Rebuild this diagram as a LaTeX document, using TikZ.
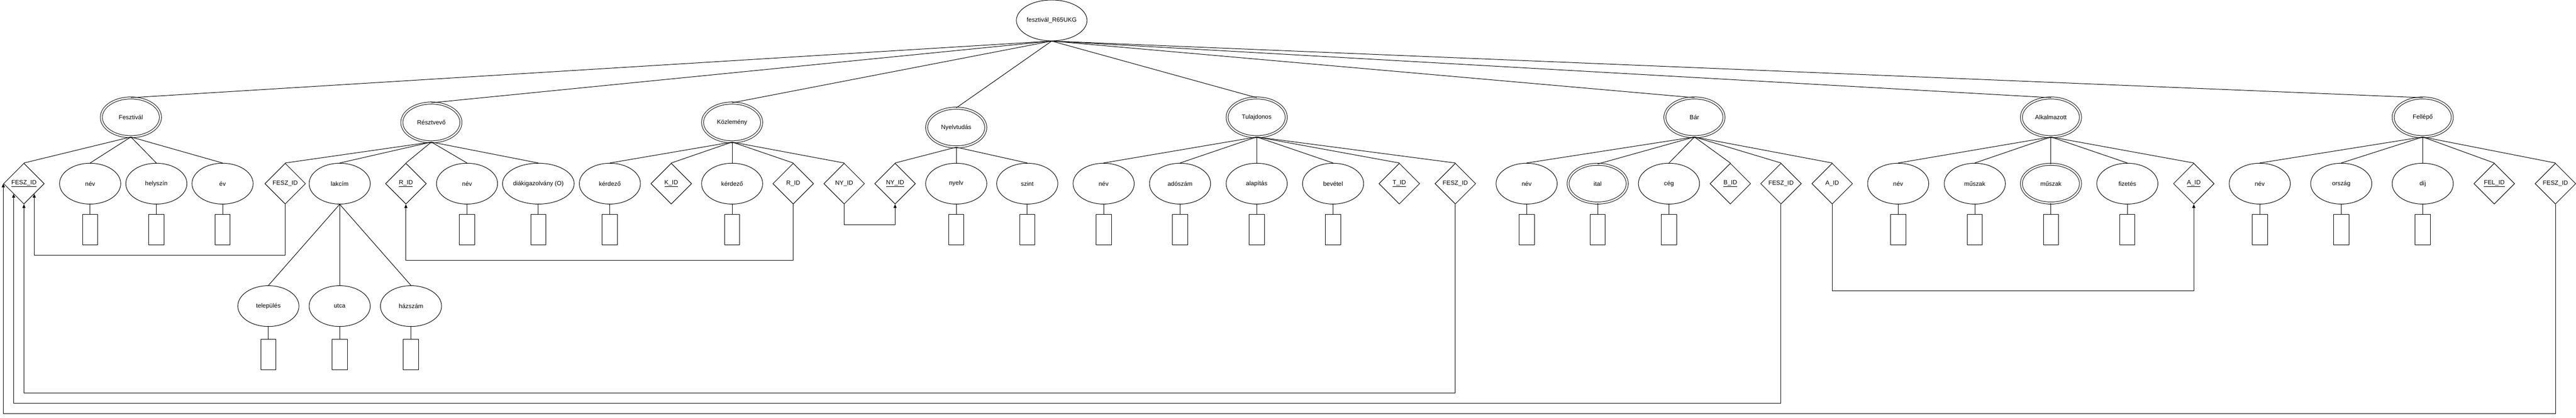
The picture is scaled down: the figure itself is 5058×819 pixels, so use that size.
\documentclass[tikz,border=0pt]{standalone}
\usepackage{fontspec}
\setmainfont{Liberation Sans}
\usetikzlibrary{shapes.geometric,arrows.meta}

\begin{document}
\begin{tikzpicture}[x=1pt,y=-1pt,line width=1pt,
        every node/.style={font=\fontsize{12}{14}\selectfont},
        attr/.style={ellipse,draw,minimum width=120pt,minimum height=80pt,inner sep=0pt},
        multi/.style={ellipse,draw,double,double distance=3pt,minimum width=116pt,minimum height=76pt,inner sep=0pt},
        key/.style={diamond,draw,minimum width=80pt,minimum height=80pt,inner sep=0pt},
        dombox/.style={rectangle,draw,minimum width=30pt,minimum height=60pt,inner sep=0pt},
        fk/.style={-{Triangle[length=7pt,width=6pt]}}]
        \useasboundingbox (0,0) rectangle (5058,819);

        % gyoker
        \node at (2065,40)[attr] (root) {fesztivál\_R65UKG};

        % Fesztivál
        \node at (257,230)[multi] (fesztival) {Fesztivál};
        \node at (47,360)[key] (fid) {\underline{FESZ\_ID}};
        \node at (177,360)[attr] (fnev) {név};
        \node at (307,360)[attr] (fhely) {helyszín};
        \node at (437,360)[attr] (fev) {év};
        \node at (177,450)[dombox] (fnevd) {};
        \node at (307,450)[dombox] (fhelyd) {};
        \node at (437,450)[dombox] (fevd) {};

        % Résztvevő
        \node at (847,240)[multi] (resztvevo) {Résztvevő};
        \node at (560,360)[key] (rfid) {FESZ\_ID};
        \node at (667,360)[attr] (rlakcim) {lakcím};
        \node at (797,360)[key] (rrid) {\underline{R\_ID}};
        \node at (917,360)[attr] (rnev) {név};
        \node at (1057,360)[attr] (rdiak) {diákigazolvány (O)};
        \node at (917,450)[dombox] (rnevd) {};
        \node at (1057,450)[dombox] (rdiakd) {};
        \node at (527,600)[attr] (rtelep) {település};
        \node at (667,600)[attr] (rutca) {utca};
        \node at (807,600)[attr] (rhaz) {házszám};
        \node at (527,695)[dombox] (rtelepd) {};
        \node at (667,695)[dombox] (rutcad) {};
        \node at (807,695)[dombox] (rhazd) {};

        % Közlemény
        \node at (1437.5,240)[multi] (kozlemeny) {Közlemény};
        \node at (1197.5,360)[attr] (kkerd) {kérdező};
        \node at (1318,360)[key] (kkid) {\underline{K\_ID}};
        \node at (1437.5,360)[attr] (kkerdb) {kérdező};
        \node at (1557.5,360)[key] (krid) {R\_ID};
        \node at (1657.5,360)[key] (knyid) {NY\_ID};
        \node at (1197.5,450)[dombox] (kkerdd) {};
        \node at (1437.5,450)[dombox] (kkerdbd) {};

        % Nyelvtudás
        \node at (1877.5,250)[multi] (nyelvtudas) {Nyelvtudás};
        \node at (1757.5,360)[key] (nyid) {\underline{NY\_ID}};
        \node at (1877.5,360)[attr] (nynyelv) {nyelv};
        \node at (2017,360)[attr] (nyszint) {szint};
        \node at (1877.5,450)[dombox] (nynyelvd) {};
        \node at (2017,450)[dombox] (nyszintd) {};

        % Tulajdonos
        \node at (2467.5,230)[multi] (tulajdonos) {Tulajdonos};
        \node at (2167,360)[attr] (tnev) {név};
        \node at (2317,360)[attr] (tado) {adószám};
        \node at (2467.5,360)[attr] (talap) {alapítás};
        \node at (2617.5,360)[attr] (tbev) {bevétel};
        \node at (2747.5,360)[key] (ttid) {\underline{T\_ID}};
        \node at (2857.5,360)[key] (tfid) {FESZ\_ID};
        \node at (2167,450)[dombox] (tnevd) {};
        \node at (2317,450)[dombox] (tadod) {};
        \node at (2467.5,450)[dombox] (talapd) {};
        \node at (2617.5,450)[dombox] (tbevd) {};

        % Bár
        \node at (3327,230)[multi] (bar) {Bár};
        \node at (2997.5,360)[attr] (bnev) {név};
        \node at (3137,360)[multi] (bital) {ital};
        \node at (3277,360)[attr] (bceg) {cég};
        \node at (3397.5,360)[key] (bbid) {\underline{B\_ID}};
        \node at (3497,360)[key] (bfid) {FESZ\_ID};
        \node at (3597.5,360)[key] (baid) {A\_ID};
        \node at (2997.5,450)[dombox] (bnevd) {};
        \node at (3137,450)[dombox] (bitald) {};
        \node at (3277,450)[dombox] (bcegd) {};

        % Alkalmazott
        \node at (4027,230)[multi] (alkalmazott) {Alkalmazott};
        \node at (3727,360)[attr] (anev) {név};
        \node at (3877.5,360)[attr] (amusz) {műszak};
        \node at (4027,360)[multi] (amuszb) {műszak};
        \node at (4177,360)[attr] (afiz) {fizetés};
        \node at (4307.5,360)[key] (aaid) {\underline{A\_ID}};
        \node at (3727,450)[dombox] (anevd) {};
        \node at (3877.5,450)[dombox] (amuszd) {};
        \node at (4027,450)[dombox] (amuszbd) {};
        \node at (4177,450)[dombox] (afizd) {};

        % Fellépő
        \node at (4757,230)[multi] (fellepo) {Fellépő};
        \node at (4437,360)[attr] (fenev) {név};
        \node at (4597,360)[attr] (feorsz) {ország};
        \node at (4757,360)[attr] (fedij) {díj};
        \node at (4897.5,360)[key] (fefelid) {\underline{FEL\_ID}};
        \node at (5017.5,360)[key] (fefid) {FESZ\_ID};
        \node at (4437,450)[dombox] (fenevd) {};
        \node at (4597,450)[dombox] (feorszd) {};
        \node at (4757,450)[dombox] (fedijd) {};

        % gyoker - egyedek
        \draw (root.south) -- (fesztival.north);
        \draw (root.south) -- (resztvevo.north);
        \draw (root.south) -- (kozlemeny.north);
        \draw (root.south) -- (nyelvtudas.north);
        \draw (root.south) -- (tulajdonos.north);
        \draw (root.south) -- (bar.north);
        \draw (root.south) -- (alkalmazott.north);
        \draw (root.south) -- (fellepo.north);

        % egyedek - tulajdonsagok
        \draw (fesztival.south) -- (fid.north);
        \draw (fesztival.south) -- (fnev.north);
        \draw (fesztival.south) -- (fhely.north);
        \draw (fesztival.south) -- (fev.north);
        \draw (resztvevo.south) -- (rfid.north);
        \draw (resztvevo.south) -- (rlakcim.north);
        \draw (resztvevo.south) -- (rrid.north);
        \draw (resztvevo.south) -- (rnev.north);
        \draw (resztvevo.south) -- (rdiak.north);
        \draw (rlakcim.south) -- (rtelep.north);
        \draw (rlakcim.south) -- (rutca.north);
        \draw (rlakcim.south) -- (rhaz.north);
        \draw (kozlemeny.south) -- (kkerd.north);
        \draw (kozlemeny.south) -- (kkid.north);
        \draw (kozlemeny.south) -- (kkerdb.north);
        \draw (kozlemeny.south) -- (krid.north);
        \draw (kozlemeny.south) -- (knyid.north);
        \draw (nyelvtudas.south) -- (nyid.north);
        \draw (nyelvtudas.south) -- (nynyelv.north);
        \draw (nyelvtudas.south) -- (nyszint.north);
        \draw (tulajdonos.south) -- (tnev.north);
        \draw (tulajdonos.south) -- (tado.north);
        \draw (tulajdonos.south) -- (talap.north);
        \draw (tulajdonos.south) -- (tbev.north);
        \draw (tulajdonos.south) -- (ttid.north);
        \draw (tulajdonos.south) -- (tfid.north);
        \draw (bar.south) -- (bnev.north);
        \draw (bar.south) -- (bital.north);
        \draw (bar.south) -- (bceg.north);
        \draw (bar.south) -- (bbid.north);
        \draw (bar.south) -- (bfid.north);
        \draw (bar.south) -- (baid.north);
        \draw (alkalmazott.south) -- (anev.north);
        \draw (alkalmazott.south) -- (amusz.north);
        \draw (alkalmazott.south) -- (amuszb.north);
        \draw (alkalmazott.south) -- (afiz.north);
        \draw (alkalmazott.south) -- (aaid.north);
        \draw (fellepo.south) -- (fenev.north);
        \draw (fellepo.south) -- (feorsz.north);
        \draw (fellepo.south) -- (fedij.north);
        \draw (fellepo.south) -- (fefelid.north);
        \draw (fellepo.south) -- (fefid.north);

        % tulajdonsagok - tipusok
        \draw (fnev) -- (fnevd);
        \draw (fhely) -- (fhelyd);
        \draw (fev) -- (fevd);
        \draw (rnev) -- (rnevd);
        \draw (rdiak) -- (rdiakd);
        \draw (rtelep) -- (rtelepd);
        \draw (rutca) -- (rutcad);
        \draw (rhaz) -- (rhazd);
        \draw (kkerd) -- (kkerdd);
        \draw (kkerdb) -- (kkerdbd);
        \draw (nynyelv) -- (nynyelvd);
        \draw (nyszint) -- (nyszintd);
        \draw (tnev) -- (tnevd);
        \draw (tado) -- (tadod);
        \draw (talap) -- (talapd);
        \draw (tbev) -- (tbevd);
        \draw (bnev) -- (bnevd);
        \draw (bital) -- (bitald);
        \draw (bceg) -- (bcegd);
        \draw (anev) -- (anevd);
        \draw (amusz) -- (amuszd);
        \draw (amuszb) -- (amuszbd);
        \draw (afiz) -- (afizd);
        \draw (fenev) -- (fenevd);
        \draw (feorsz) -- (feorszd);
        \draw (fedij) -- (fedijd);

        % idegen kulcsok
        \draw [fk] (rfid.south) -- ++(0,100) -| (fid.south east);
        \draw [fk] (tfid.south) -- ++(0,370) -| (fid.south);
        \draw [fk] (bfid.south) -- ++(0,390) -| (fid.south west);
        \draw [fk] (fefid.south) -- ++(0,410) -| (fid.west);
        \draw [fk] (krid.south) -- ++(0,110) -| (rrid.south);
        \draw [fk] (knyid.south) -- ++(0,40) -| (nyid.south);
        \draw [fk] (baid.south) -- ++(0,170) -| (aaid.south);
    \end{tikzpicture}
\end{document}
